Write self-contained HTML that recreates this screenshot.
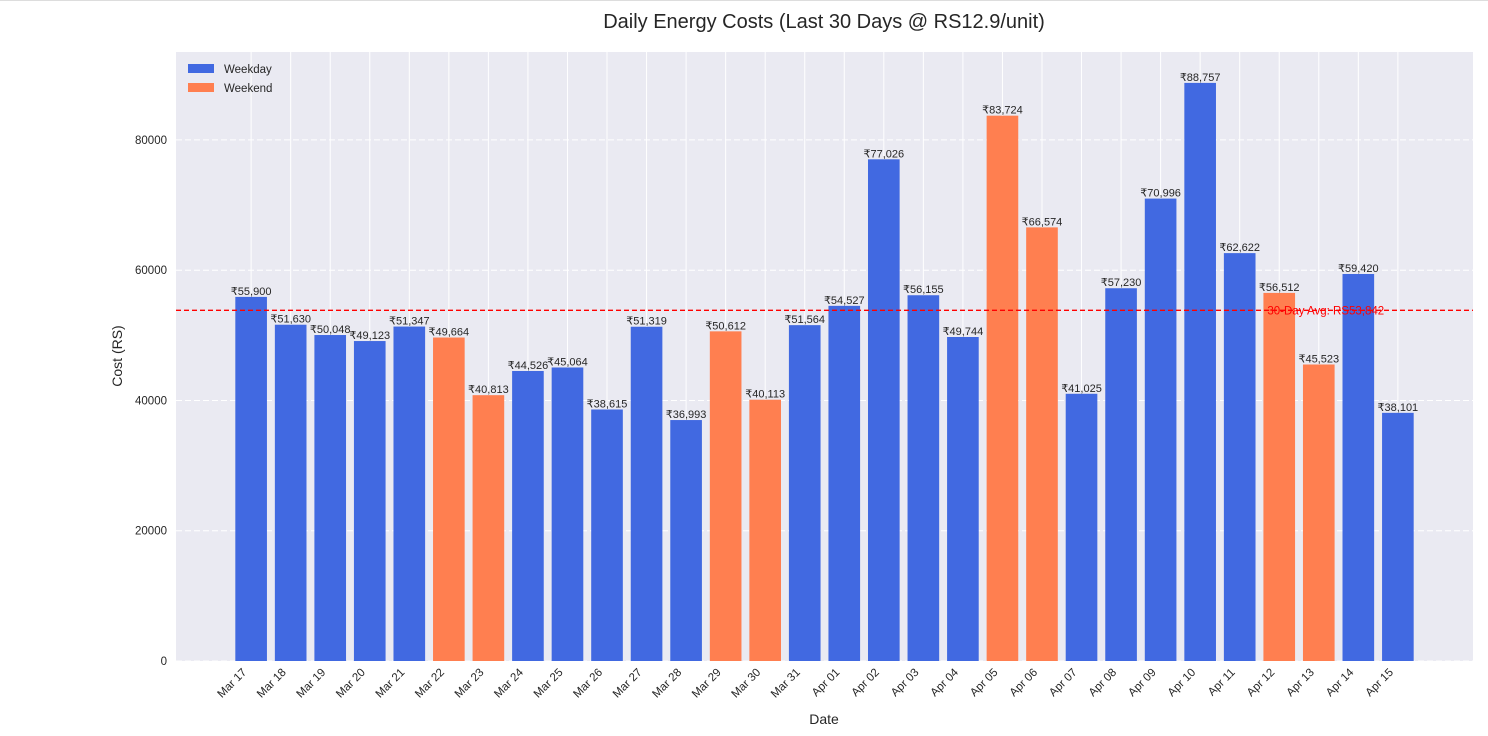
<!DOCTYPE html>
<html><head><meta charset="utf-8"><style>
body{margin:0;background:#fff;font-family:"Liberation Sans",sans-serif;}
svg{display:block}
</style></head><body>
<svg id="chart" width="1488" height="736">
<line x1="0" y1="0.5" x2="1488" y2="0.5" stroke="#ddd"/>
<text x="824" y="28" text-anchor="middle" font-size="20" fill="#262626">Daily Energy Costs (Last 30 Days @ RS12.9/unit)</text>
<rect x="176" y="52" width="1297" height="609" fill="#eaeaf2"/>
<g id="grid"></g><g id="bars"></g><g id="labels"></g><g id="axes"></g>
<text x="122" y="356" text-anchor="middle" font-size="14" fill="#262626" transform="rotate(-90 122 356)">Cost (RS)</text>
<text x="824" y="724" text-anchor="middle" font-size="14" fill="#262626">Date</text>
<g>
<rect x="188" y="64" width="26" height="9" fill="#4169e1"/>
<text x="224" y="73" font-size="11.5" fill="#262626">Weekday</text>
<rect x="188" y="83" width="26" height="9" fill="#ff7f50"/>
<text x="224" y="92" font-size="11.5" fill="#262626">Weekend</text>
</g>
</svg>
<script>
const categories=["Mar 17","Mar 18","Mar 19","Mar 20","Mar 21","Mar 22","Mar 23","Mar 24","Mar 25","Mar 26","Mar 27","Mar 28","Mar 29","Mar 30","Mar 31","Apr 01","Apr 02","Apr 03","Apr 04","Apr 05","Apr 06","Apr 07","Apr 08","Apr 09","Apr 10","Apr 11","Apr 12","Apr 13","Apr 14","Apr 15"];
const costs=[55900,51630,50048,49123,51347,49664,40813,44526,45064,38615,51319,36993,50612,40113,51564,54527,77026,56155,49744,83724,66574,41025,57230,70996,88757,62622,56512,45523,59420,38101];
const weekend=[0,0,0,0,0,1,1,0,0,0,0,0,1,1,0,0,0,0,0,1,1,0,0,0,0,0,1,1,0,0];
const yTicks=[0,20000,40000,60000,80000];
const avgValue=53842;
const NS="http://www.w3.org/2000/svg";
const L=176,R=1473,T=52,B=661,xmin=-1.9,xmax=30.9,ymax=93500;
const xs=i=>L+(i-xmin)/(xmax-xmin)*(R-L);
const ys=v=>B-v/ymax*(B-T);
const bw=(R-L)/(xmax-xmin)*0.8;
function mk(tag,attrs,parent,txt){const e=document.createElementNS(NS,tag);for(const k in attrs)e.setAttribute(k,attrs[k]);if(txt!==undefined)e.textContent=txt;document.getElementById(parent).appendChild(e);return e;}
yTicks.forEach(v=>{
 const g=mk('line',{x1:L,x2:R,y1:ys(v),y2:ys(v),stroke:'#fff','stroke-dasharray':'6,3','stroke-width':1},'grid');
 
 
 const t=mk('text',{x:L-9,y:ys(v)+4,'text-anchor':'end','font-size':11.5,fill:'#262626'},'axes',String(v));
 
 
});
categories.forEach((c,i)=>{
 const g=mk('line',{x1:xs(i),x2:xs(i),y1:T,y2:B,stroke:'#fff','stroke-width':1},'grid');
 
 
 const v=costs[i];
 const b=mk('rect',{x:xs(i)-bw/2,y:ys(v),width:bw,height:B-ys(v),fill:weekend[i]?'#ff7f50':'#4169e1'},'bars');
 
 
 const l=mk('text',{x:xs(i),y:ys(v)-2,'text-anchor':'middle','font-size':11,fill:'#262626'},'labels','₹'+v.toLocaleString('en-US'));
 
 
 const tx=xs(i)-4,ty=B+12;
 const t=mk('text',{x:tx,y:ty,'text-anchor':'end','font-size':11.5,fill:'#262626',transform:`rotate(-45 ${tx} ${ty})`},'axes',c);
 
 
});
const a=mk('line',{x1:L,x2:R,y1:ys(avgValue),y2:ys(avgValue),stroke:'#ff0000','stroke-dasharray':'5,3','stroke-width':1.3},'labels');


const at=mk('text',{x:xs(25.7),y:ys(avgValue)+4,'font-size':11.5,fill:'#ff0000'},'labels','30-Day Avg: RS'+avgValue.toLocaleString('en-US'));


</script>
</body></html>
